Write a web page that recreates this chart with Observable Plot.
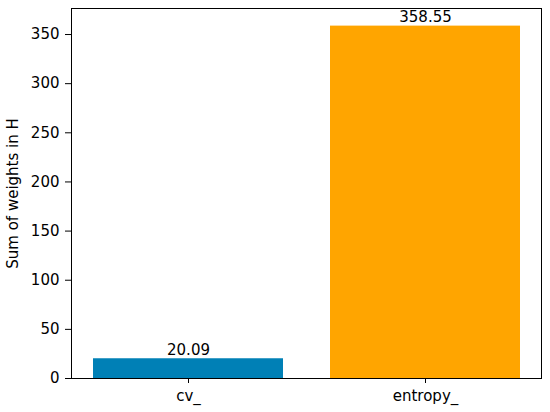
<!DOCTYPE html>
<html>
<head>
<meta charset="utf-8">
<script src="https://cdn.jsdelivr.net/npm/d3@7"></script>
<script src="https://cdn.jsdelivr.net/npm/@observablehq/plot@0.6"></script>
<style>
  html, body { margin: 0; padding: 0; background: #fff; }
  #chart svg { display: block; }
</style>
</head>
<body>
<div id="chart"></div>
<script>
const categories = ["cv_", "entropy_"];
const values = [20.09, 358.55];
const colors = ["#0080b6", "#ffa500"];
const yTicks = [0, 50, 100, 150, 200, 250, 300, 350];

const data = categories.map((c, i) => ({category: c, value: values[i], color: colors[i]}));

const chart = Plot.plot({
  width: 550,
  height: 412,
  marginLeft: 71,
  marginRight: 9,
  marginTop: 8,
  marginBottom: 34,
  style: {fontFamily: "DejaVu Sans", fontSize: "15px", color: "#000", background: "#fff"},
  x: {domain: categories, paddingInner: 0.2, paddingOuter: 0.09, label: null},
  y: {domain: [0, 358.55 * 1.05], label: null},
  marks: [
    Plot.barY(data, {x: "category", y: "value", fill: d => d.color}),
    Plot.text(data, {x: "category", y: "value", text: d => d.value.toFixed(2), lineAnchor: "bottom", dy: -4, fontSize: 15, fill: "#000"}),
    Plot.frame({stroke: "#000", strokeWidth: 1}),
    Plot.axisY({ticks: yTicks, tickSize: 6, tickPadding: 6, fontSize: 15, label: "Sum of weights in H", labelAnchor: "center", labelArrow: "none", labelOffset: 64}),
    Plot.axisX({tickSize: 5, tickPadding: 7, fontSize: 15, label: null})
  ]
});
document.getElementById("chart").appendChild(chart);
</script>
</body>
</html>
